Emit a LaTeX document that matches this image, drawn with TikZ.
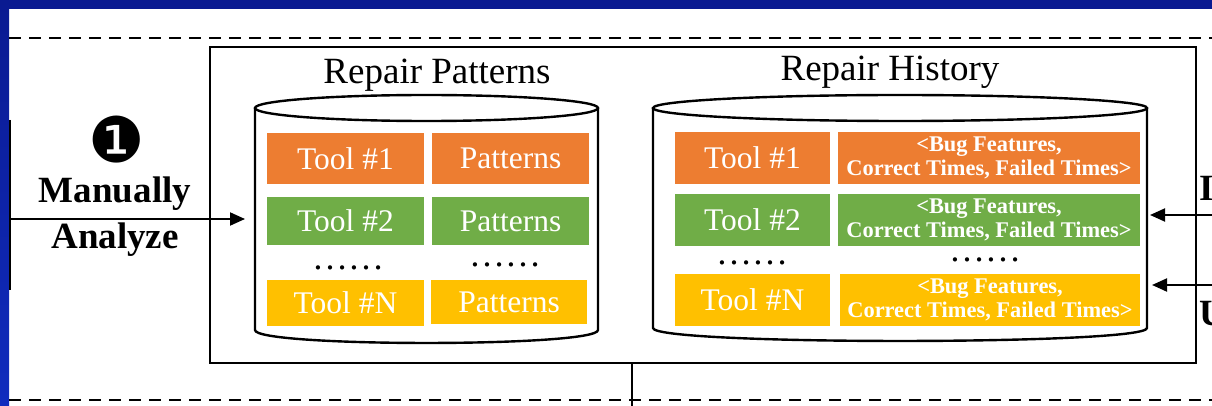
\documentclass[tikz,border=0pt]{standalone}
\usepackage{fontspec}
\setmainfont{Liberation Serif}
\newfontfamily\dv{DejaVu Sans}
\usetikzlibrary{arrows.meta}
\definecolor{slideblue}{RGB}{10,26,145}
\definecolor{slideblueB}{RGB}{16,44,190}
\definecolor{orgA}{RGB}{237,125,49}
\definecolor{grnA}{RGB}{112,173,71}
\definecolor{ylwA}{RGB}{255,192,0}
\tikzset{
  cell/.style={inner sep=0pt, text=white, font=\fontsize{31.5}{31.5}\selectfont},
  smallcell/.style={inner sep=0pt, text=white, align=center, font=\bfseries\fontsize{22.4}{24}\selectfont},
  title/.style={inner sep=0pt, font=\fontsize{37}{37}\selectfont},
  dots/.style={inner sep=0pt, anchor=base, text height=5pt, text depth=0pt, font=\fontsize{36}{36}\selectfont},
  cyl/.style={line width=2.4pt},
  frame/.style={line width=2.4pt},
  dline/.style={line width=2.8pt, dash pattern=on 12pt off 8pt},
  arr/.style={line width=2pt, -{Triangle[length=15pt,width=13pt]}},
  lab/.style={inner sep=0pt, align=center, font=\bfseries\fontsize{37}{46}\selectfont},
}
\begin{document}
\begin{tikzpicture}[x=1pt,y=-1pt]
\useasboundingbox (0,0) rectangle (1212,406);
\clip (0,0) rectangle (1212,406);
% slide background
\fill[slideblue] (0,0) rectangle (1212,9);
\shade[top color=slideblue, bottom color=slideblueB] (0,0) rectangle (9,406);
% dashed separators
\coordinate (dtl) at (9,38);
\coordinate (dtr) at (1212,38);
\coordinate (dbl) at (9,400);
\coordinate (dbr) at (1212,400);
\draw[dline] (dtl) -- (dtr);
\draw[dline] (dbl) -- (dbr);
% partial left box edge
\coordinate (lbt) at (10,120);
\coordinate (lbb) at (10,290);
\draw[line width=2pt] (lbt) -- (lbb);
% outer frame
\node[draw, frame, minimum width=986pt, minimum height=316pt, inner sep=0pt] (outer) at (703,205) {};
% bottom connector
\coordinate (bend) at (632,406);
\draw[line width=2pt] (outer.south -| bend) -- (bend);
% titles
\node[title] (tP) at (437,75) {Repair Patterns};
\node[title] (tH) at (890,72) {Repair History};
% cylinder: repair patterns
\draw[cyl, fill=white] (255,108) -- (255,330) .. controls (255,347.3) and (598,347.3) .. (598,330) -- (598,108);
\draw[cyl] (426.5,108) ellipse [x radius=171.5, y radius=13];
% cylinder: repair history
\draw[cyl, fill=white] (653,108) -- (653,328) .. controls (653,345.3) and (1147,345.3) .. (1147,328) -- (1147,108);
\draw[cyl] (900,108) ellipse [x radius=247, y radius=13];
% patterns cells
\node[cell, fill=orgA, minimum width=157pt, minimum height=51pt] (p1) at (345.5,158.5) {Tool \#1};
\node[cell, fill=orgA, minimum width=157pt, minimum height=51pt] (q1) at (510.5,158.5) {Patterns};
\node[cell, fill=grnA, minimum width=157pt, minimum height=48pt] (p2) at (345.5,221) {Tool \#2};
\node[cell, fill=grnA, minimum width=157pt, minimum height=48pt] (q2) at (510.5,221) {Patterns};
\node[dots] (pd) at (348,269) {……};
\node[dots] (qd) at (505,266) {……};
\node[cell, fill=ylwA, minimum width=157pt, minimum height=46pt] (pn) at (345.5,303) {Tool \#N};
\node[cell, fill=ylwA, minimum width=156pt, minimum height=44pt] (qn) at (509,302) {Patterns};
% history cells
\node[cell, fill=orgA, minimum width=155pt, minimum height=52pt] (h1) at (752.5,158) {Tool \#1};
\node[smallcell, fill=orgA, minimum width=302pt, minimum height=52pt] (g1) at (989,158) {<Bug Features,\\Correct Times, Failed Times>};
\node[cell, fill=grnA, minimum width=155pt, minimum height=52pt] (h2) at (752.5,220) {Tool \#2};
\node[smallcell, fill=grnA, minimum width=302pt, minimum height=52pt] (g2) at (989,220) {<Bug Features,\\Correct Times, Failed Times>};
\node[dots] (hd) at (752,264) {……};
\node[dots] (gd) at (985,261) {……};
\node[cell, fill=ylwA, minimum width=155pt, minimum height=52pt] (hn) at (752.5,300) {Tool \#N};
\node[smallcell, fill=ylwA, minimum width=300pt, minimum height=52pt] (gn) at (990,300) {<Bug Features,\\Correct Times, Failed Times>};
% left label and arrow
\node[inner sep=0pt, font=\dv\fontsize{63}{63}\selectfont] (num) at (117,140) {❶};
\node[lab] (ma) at (115,217) {Manually\\Analyze};
\coordinate (ain) at (10,219);
\coordinate (aout) at (245,219);
\draw[arr] (ain) -- (aout);
% right arrows and cut labels
\coordinate (r1s) at (1212,215);
\coordinate (r1e) at (1150,215);
\coordinate (r2s) at (1212,285);
\coordinate (r2e) at (1152,285);
\draw[arr] (r1s) -- (r1e);
\draw[arr] (r2s) -- (r2e);
\node[inner sep=0pt, anchor=west, font=\bfseries\fontsize{37}{37}\selectfont] (rI) at (1199,188) {I};
\node[inner sep=0pt, anchor=west, font=\bfseries\fontsize{37}{37}\selectfont] (rU) at (1199,314) {U};
\end{tikzpicture}
\end{document}
